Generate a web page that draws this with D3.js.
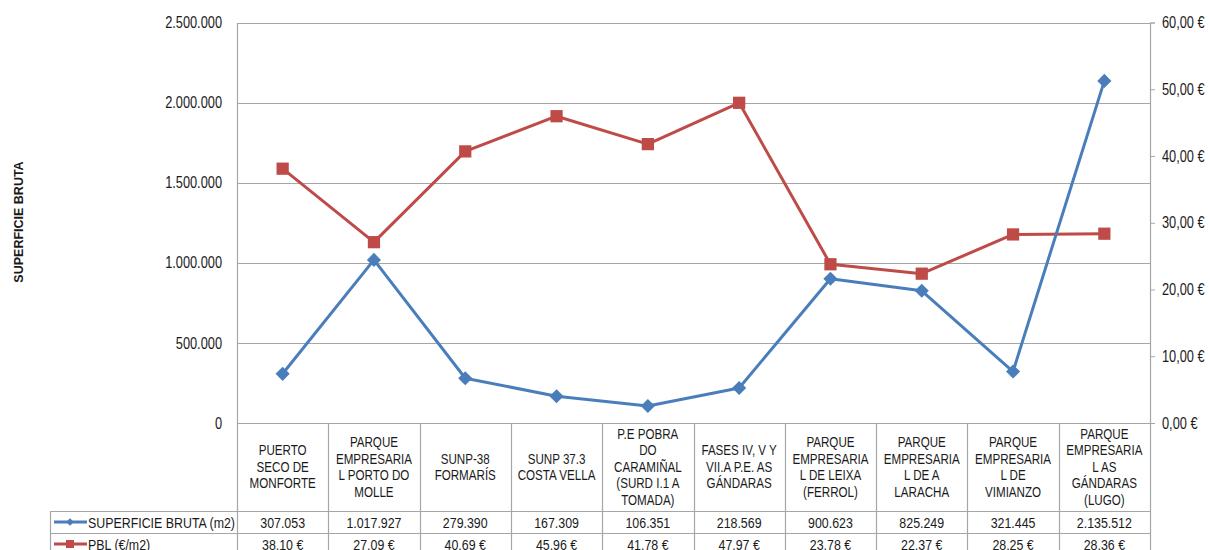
<!DOCTYPE html>
<html>
<head>
<meta charset="UTF-8">
<title>Superficie bruta / PBL</title>
<style>
body { margin: 0; background: #fff; }
text { fill: #1a1a1a; font-family: "Liberation Sans", Arial, sans-serif; }
</style>
</head>
<body>
<svg width="1210" height="550"></svg>
<script src="https://cdn.jsdelivr.net/npm/d3@7"></script>
<script>
// categorias (saltos de linea como en el original)
var categories = [
  "PUERTO\nSECO DE\nMONFORTE",
  "PARQUE\nEMPRESARIA\nL PORTO DO\nMOLLE",
  "SUNP-38\nFORMARÍS",
  "SUNP 37.3\nCOSTA VELLA",
  "P.E POBRA\nDO\nCARAMIÑAL\n(SURD I.1 A\nTOMADA)",
  "FASES IV, V Y\nVII.A P.E. AS\nGÁNDARAS",
  "PARQUE\nEMPRESARIA\nL DE LEIXA\n(FERROL)",
  "PARQUE\nEMPRESARIA\nL DE A\nLARACHA",
  "PARQUE\nEMPRESARIA\nL DE\nVIMIANZO",
  "PARQUE\nEMPRESARIA\nL AS\nGÁNDARAS\n(LUGO)"
];
var superficie = [307053, 1017927, 279390, 167309, 106351, 218569, 900623, 825249, 321445, 2135512];
var pbl = [38.10, 27.09, 40.69, 45.96, 41.78, 47.97, 23.78, 22.37, 28.25, 28.36];
var seriesNames = ["SUPERFICIE BRUTA (m2)", "PBL (€/m2)"];
var leftTicks = [0, 500000, 1000000, 1500000, 2000000, 2500000];
var rightTicks = [0, 10, 20, 30, 40, 50, 60];

var svg = d3.select("svg"),
    pLeft = 237, pRight = 1150, pTop = 22.5, pBottom = 423,
    row1 = 511, row2 = 533, row3 = 555, tableLeft = 50,
    blue = "#4a7ebb", red = "#be4b48", gridCol = "#a6a6a6",
    sx = 0.8, narrow = "scale(0.8,1)";

var es = d3.formatLocale({decimal: ",", thousands: ".", grouping: [3], currency: ["", " €"]});
var fmtInt = es.format(",.0f"), fmtEur = es.format(",.2f");

var x = d3.scaleBand().domain(d3.range(categories.length)).range([pLeft, pRight]);
var yL = d3.scaleLinear().domain([0, 2500000]).range([pBottom, pTop]);
var yR = d3.scaleLinear().domain([0, 60]).range([pBottom, pTop]);

// rejilla
svg.append("g").selectAll("line").data(leftTicks).enter().append("line")
  .attr("x1", pLeft).attr("x2", pRight)
  .attr("y1", function(d){ return Math.round(yL(d)) + 0.5; })
  .attr("y2", function(d){ return Math.round(yL(d)) + 0.5; })
  .attr("stroke", gridCol).attr("stroke-width", 1.2);

// eje izquierdo
var axL = svg.append("g").attr("transform", "translate(" + pLeft + ",0)")
  .call(d3.axisLeft(yL).tickValues(leftTicks).tickSize(0).tickPadding(0).tickFormat(fmtInt));
axL.select(".domain").attr("stroke", gridCol).attr("stroke-width", 1.2);
axL.selectAll(".tick text").attr("x", -15 / sx).attr("transform", narrow)
  .style("font-size", "16px").attr("fill", "#1a1a1a");

// eje derecho
var axR = svg.append("g").attr("transform", "translate(" + pRight + ",0)")
  .call(d3.axisRight(yR).tickValues(rightTicks).tickSize(5).tickPadding(0)
    .tickFormat(function(d){ return fmtEur(d) + " €"; }));
axR.select(".domain").attr("stroke", gridCol).attr("stroke-width", 1.2);
axR.selectAll(".tick line").attr("stroke", gridCol);
axR.selectAll(".tick text").attr("x", 12 / sx).attr("transform", narrow)
  .style("font-size", "16px").attr("fill", "#1a1a1a");

// titulo vertical
svg.append("text").attr("transform", "translate(23,222) rotate(-90)")
  .attr("text-anchor", "middle")
  .style("font-weight", "bold").style("font-size", "12.5px")
  .text("SUPERFICIE BRUTA");

// tabla: lineas
var tbl = svg.append("g").attr("stroke", gridCol).attr("stroke-width", 1.2);
x.domain().concat([categories.length]).forEach(function(i){
  var xx = i < categories.length ? x(i) : pRight;
  xx = Math.round(xx) + 0.5;
  tbl.append("line").attr("x1", xx).attr("x2", xx).attr("y1", pBottom).attr("y2", row3);
});
[row1, row2].forEach(function(yy){
  tbl.append("line").attr("x1", tableLeft).attr("x2", pRight).attr("y1", yy + 0.5).attr("y2", yy + 0.5);
});
tbl.append("line").attr("x1", tableLeft + 0.5).attr("x2", tableLeft + 0.5).attr("y1", row1).attr("y2", row3);

// etiquetas de categoria
var cx = function(i){ return x(i) + x.bandwidth() / 2; };
var lh = 16.5;
svg.append("g").selectAll("g").data(categories).enter().append("g")
  .attr("transform", function(d, i){ return "translate(" + cx(i) + ",0) " + narrow; })
  .append("text").attr("text-anchor", "middle").style("font-size", "14.5px")
  .each(function(d){
    var lines = d.split("\n"), t = d3.select(this);
    var y0 = 467 - (lines.length - 1) * lh / 2 + 5;
    lines.forEach(function(l, k){
      t.append("tspan").attr("x", 0).attr("y", y0 + k * lh).text(l);
    });
  });

// valores de la tabla
var rows = [
  {vals: superficie.map(fmtInt), y: (row1 + row2) / 2},
  {vals: pbl.map(function(v){ return fmtEur(v) + " €"; }), y: (row2 + row3) / 2}
];
rows.forEach(function(r){
  svg.append("g").selectAll("text").data(r.vals).enter().append("text")
    .attr("transform", function(d, i){ return "translate(" + cx(i) + "," + (r.y + 5.5) + ") " + narrow; })
    .attr("text-anchor", "middle").style("font-size", "15.5px")
    .text(function(d){ return d; });
});

// lineas de series
var lineL = d3.line().x(function(d, i){ return cx(i); }).y(function(d){ return yL(d); });
var lineR = d3.line().x(function(d, i){ return cx(i); }).y(function(d){ return yR(d); });

svg.append("path").datum(pbl).attr("d", lineR).attr("fill", "none")
  .attr("stroke", red).attr("stroke-width", 3).attr("stroke-linejoin", "round");
svg.append("g").selectAll("path").data(pbl).enter().append("path")
  .attr("d", d3.symbol().type(d3.symbolSquare).size(150))
  .attr("transform", function(d, i){ return "translate(" + cx(i) + "," + yR(d) + ")"; })
  .attr("fill", red);

svg.append("path").datum(superficie).attr("d", lineL).attr("fill", "none")
  .attr("stroke", blue).attr("stroke-width", 3).attr("stroke-linejoin", "round");
svg.append("g").selectAll("path").data(superficie).enter().append("path")
  .attr("d", d3.symbol().type(d3.symbolSquare).size(100))
  .attr("transform", function(d, i){ return "translate(" + cx(i) + "," + yL(d) + ") rotate(45)"; })
  .attr("fill", blue);

// leyenda dentro de la tabla
var leg = [{c: blue, y: (row1 + row2) / 2, diamond: true}, {c: red, y: (row2 + row3) / 2, diamond: false}];
leg.forEach(function(l, k){
  svg.append("line").attr("x1", 54).attr("x2", 87).attr("y1", l.y).attr("y2", l.y)
    .attr("stroke", l.c).attr("stroke-width", 3);
  svg.append("path")
    .attr("d", d3.symbol().type(d3.symbolSquare).size(l.diamond ? 30 : 64))
    .attr("transform", "translate(70," + l.y + ")" + (l.diamond ? " rotate(45)" : ""))
    .attr("fill", l.c);
  svg.append("text").attr("transform", "translate(88," + (l.y + 5.5) + ") " + narrow)
    .style("font-size", "15.5px").text(seriesNames[k]);
});
</script>
</body>
</html>
